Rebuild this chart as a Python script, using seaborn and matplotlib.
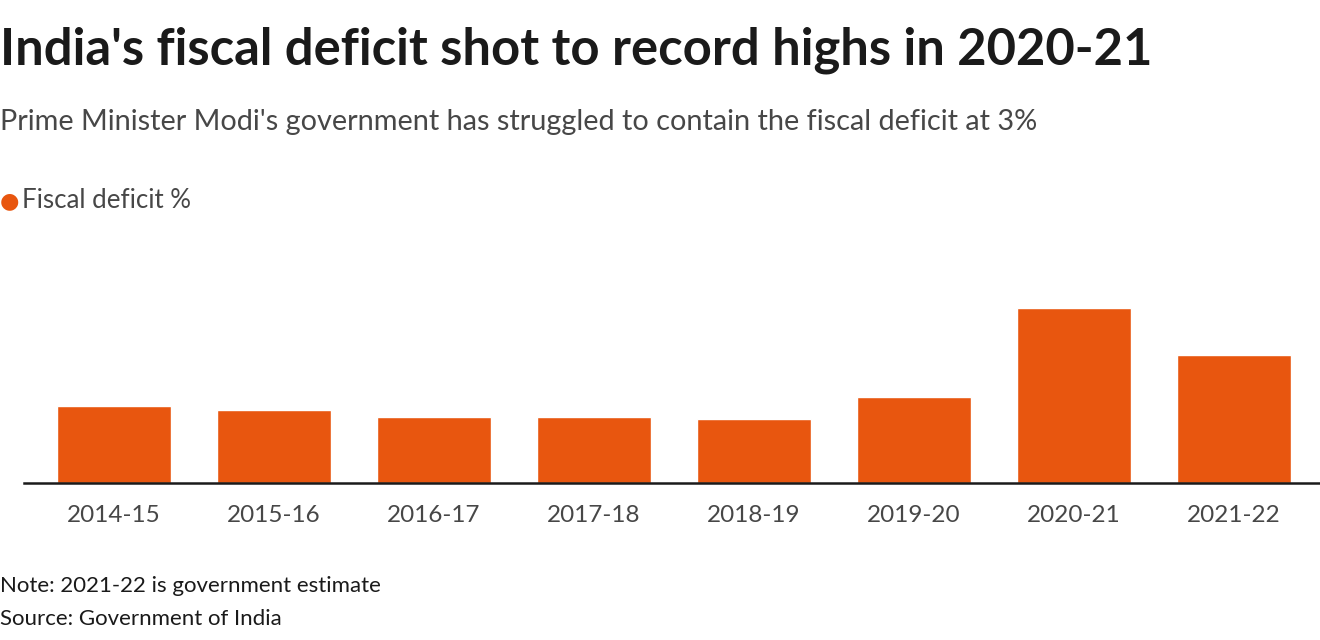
import matplotlib
matplotlib.use("Agg")
import matplotlib.pyplot as plt
import seaborn as sns
import pandas as pd

years = ["2014-15", "2015-16", "2016-17", "2017-18", "2018-19", "2019-20", "2020-21", "2021-22"]
deficit = [4.1, 3.9, 3.5, 3.5, 3.4, 4.6, 9.3, 6.8]

ORANGE = "#e8560f"

sns.set_theme(style="white")
plt.rcParams["font.family"] = ["Lato", "DejaVu Sans"]

df = pd.DataFrame({"year": years, "deficit": deficit})

fig = plt.figure(figsize=(13.2, 6.4), dpi=100)
ax = fig.add_axes([24 / 1320, 157 / 640, 1 - 24 / 1320, 188 / 640])

sns.barplot(data=df, x="year", y="deficit", color=ORANGE, width=0.7125,
            saturation=1, ax=ax)

ax.set_xlim(-0.5625, 7.5375)
ax.set_ylim(0, 10)
ax.set_xlabel("")
ax.set_ylabel("")
ax.set_yticks([])
for s in ["top", "right", "left"]:
    ax.spines[s].set_visible(False)
ax.spines["bottom"].set_color("#1a1a1a")
ax.spines["bottom"].set_linewidth(1.8)
ax.tick_params(axis="x", length=0, pad=16, labelsize=17.5, labelcolor="#474747")

fig.text(0.0, 1 - 50 / 640, "India's fiscal deficit shot to record highs in 2020-21",
         fontsize=36.5, fontweight="bold", color="#1a1a1a", va="center", ha="left")
fig.text(0.0, 1 - 122 / 640, "Prime Minister Modi's government has struggled to contain the fiscal deficit at 3%",
         fontsize=20.8, color="#474747", va="center", ha="left")
fig.text(0.0, 1 - 201 / 640, "\u25CF", fontsize=16, color=ORANGE, va="center", ha="left",
         family=["DejaVu Sans"])
fig.text(22 / 1320, 1 - 201 / 640, "Fiscal deficit %", fontsize=18.6,
         color="#474747", va="center", ha="left")
fig.text(0.0, 1 - 586 / 640, "Note: 2021-22 is government estimate",
         fontsize=16, color="#1a1a1a", va="center", ha="left")
fig.text(0.0, 1 - 619 / 640, "Source: Government of India",
         fontsize=16, color="#1a1a1a", va="center", ha="left")

fig.savefig("out.png", dpi=100)
